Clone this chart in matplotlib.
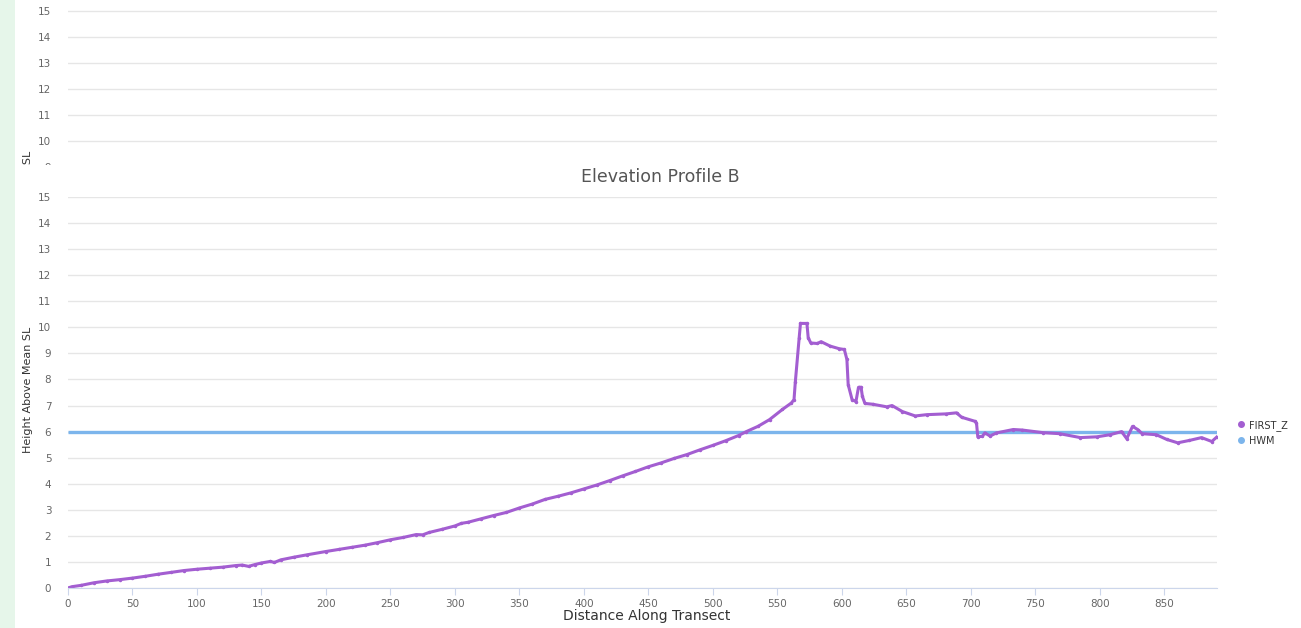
import matplotlib.pyplot as plt
from matplotlib.lines import Line2D
from matplotlib.patches import Rectangle

# distance along transect and FIRST_Z elevation
dist = [0, 3, 10, 20, 30, 40, 50, 60, 70, 80, 90, 100, 110, 120, 130, 135, 140, 145,
        150, 157, 160, 165, 175, 185, 200, 210, 220, 230, 240, 250, 260, 270, 275, 280,
        290, 300, 305, 310, 320, 330, 340, 350, 360, 370, 380, 390, 400, 410, 420, 430,
        440, 450, 460, 470, 480, 490, 500, 510, 520, 526, 535, 544, 554, 561, 563, 564,
        567, 568, 573, 574, 576, 581, 584, 591, 598, 602, 604, 605, 608, 611, 613, 615,
        616, 618, 624, 635, 639, 647, 657, 666, 681, 689, 693, 703, 704.5, 705.5, 709,
        711, 715, 720, 733, 740, 756, 769, 785, 798, 808, 817, 821, 825.5, 829.5, 833,
        844, 852, 860.5, 869.5, 879, 887, 891]
first_z = [0.0, 0.05, 0.1, 0.2, 0.27, 0.32, 0.38, 0.45, 0.53, 0.6, 0.67, 0.72, 0.76, 0.8,
           0.86, 0.88, 0.83, 0.9, 0.96, 1.02, 0.98, 1.08, 1.18, 1.27, 1.4, 1.48, 1.56,
           1.64, 1.74, 1.85, 1.94, 2.05, 2.04, 2.13, 2.25, 2.38, 2.48, 2.52, 2.65, 2.78,
           2.9, 3.07, 3.22, 3.4, 3.52, 3.65, 3.8, 3.95, 4.12, 4.3, 4.47, 4.65, 4.8, 4.97,
           5.12, 5.3, 5.47, 5.65, 5.85, 6.0, 6.2, 6.46, 6.85, 7.1, 7.23, 7.9, 9.6, 10.15,
           10.15, 9.6, 9.4, 9.38, 9.45, 9.28, 9.18, 9.15, 8.77, 7.8, 7.23, 7.15, 7.7, 7.7,
           7.35, 7.08, 7.05, 6.95, 7.0, 6.77, 6.6, 6.65, 6.68, 6.72, 6.55, 6.4, 6.33, 5.8,
           5.82, 5.95, 5.83, 5.95, 6.08, 6.06, 5.96, 5.92, 5.77, 5.8, 5.88, 6.0, 5.73,
           6.2, 6.08, 5.92, 5.88, 5.7, 5.57, 5.66, 5.77, 5.62, 5.8]
hwm_x = [0, 891]
hwm_y = [6, 6]
x_ticks = list(range(0, 851, 50))
y_ticks = list(range(0, 16))
top_ticks = list(range(9, 16))

purple = "#a35ed1"
blue = "#7cb5ec"
grid_c = "#e6e6e6"
lab_c = "#666666"

W, H = 1301, 628
fig = plt.figure(figsize=(W / 100, H / 100), dpi=100)
fig.patch.set_facecolor("white")

left = 68 / W
width = (1217 - 68) / W


def style(ax, ticks):
    ax.set_facecolor("white")
    for s in ["left", "right", "top"]:
        ax.spines[s].set_visible(False)
    ax.set_yticks(ticks)
    ax.tick_params(axis="y", length=0, pad=12, labelsize=7.5, labelcolor=lab_c)
    ax.grid(axis="y", color=grid_c, lw=1)
    ax.set_axisbelow(True)
    ax.set_xlim(0, 891)


# top, scrolled-off copy of the chart (only partly visible)
ax_top = fig.add_axes([left, 1 - 300 / H, width, 300 / H])
style(ax_top, top_ticks)
ax_top.set_ylim(15 - (300 - 11) / 26, 15 + 11 / 26)
ax_top.set_xticks([])
ax_top.spines["bottom"].set_visible(False)
fig.text(28 / W, 1 - 214 / H, "Height Above Mean SL", rotation=90, ha="center",
         va="center", fontsize=8, color="#333333", zorder=0.5)

# white panel covering the lower part of the top copy
fig.patches.append(Rectangle((0, 0), 1, 1 - 165 / H, transform=fig.transFigure,
                             facecolor="white", edgecolor="none", zorder=1))

# main chart
ax = fig.add_axes([left, 1 - 588 / H, width, (588 - 197) / H])
ax.set_zorder(2)
style(ax, y_ticks)
ax.set_ylim(0, 15)
ax.plot(hwm_x, hwm_y, color=blue, lw=2.4, solid_capstyle="butt")
ax.plot(dist, first_z, color=purple, lw=2.2, marker="o", ms=1.5)
ax.set_xticks(x_ticks)
ax.spines["bottom"].set_color("#ccd6eb")
ax.tick_params(axis="x", length=5, color="#ccd6eb", pad=3, labelsize=7.5,
               labelcolor=lab_c)

fig.text(660 / W, 1 - 177 / H, "Elevation Profile B", ha="center", va="center",
         fontsize=12.5, color="#555555", zorder=3)
fig.text(647 / W, 1 - 616 / H, "Distance Along Transect", ha="center", va="center",
         fontsize=10, color="#333333", zorder=3)
fig.text(28 / W, 1 - 390 / H, "Height Above Mean SL", rotation=90, ha="center",
         va="center", fontsize=8, color="#333333", zorder=3)

handles = [Line2D([], [], color=purple, marker="o", ls="none", ms=4),
           Line2D([], [], color=blue, marker="o", ls="none", ms=4)]
leg = fig.legend(handles, ["FIRST_Z", "HWM"], loc="upper left",
                 bbox_to_anchor=(1232 / W, 1 - 415 / H), frameon=False,
                 fontsize=7, handlelength=0.8, handletextpad=0.4, labelspacing=0.5,
                 borderpad=0)
for t in leg.get_texts():
    t.set_color("#333333")
leg.set_zorder(3)

# light green strip at the left edge of the screenshot
fig.patches.append(Rectangle((0, 0), 15 / W, 1, transform=fig.transFigure,
                             facecolor="#e6f6ea", edgecolor="none", zorder=4))

fig.savefig("out.png", dpi=100)
